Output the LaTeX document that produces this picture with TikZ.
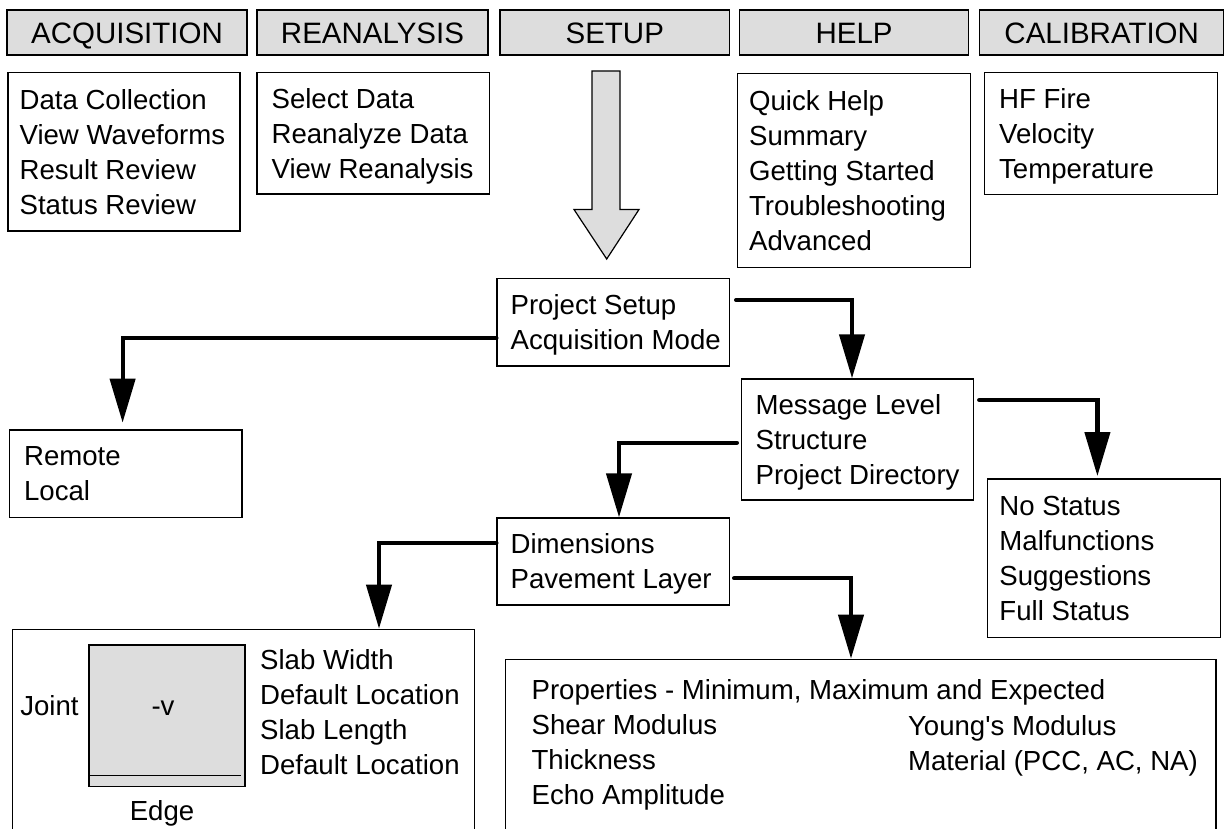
\documentclass[tikz,border=0pt]{standalone}
\usepackage{fontspec}
\setmainfont{Liberation Sans}
\usetikzlibrary{arrows.meta}
\definecolor{hdrgray}{RGB}{221,221,221}
\newcommand\hdrfont{\fontsize{29.5}{34}\selectfont}
\newcommand\bodyfont{\fontsize{27.6}{35}\selectfont}
\begin{document}
\begin{tikzpicture}[x=1pt,y=-1pt,
  hdr/.style={draw, line width=1.3pt, fill=hdrgray, font=\hdrfont, minimum height=45pt, inner sep=0pt,
              text height=21.1pt, text depth=0pt},
  bx/.style={draw, line width=1.2pt, inner sep=0pt},
  lbl/.style={font=\bodyfont, inner sep=0pt, align=left, anchor=west,
              execute at begin node=\strut, execute at end node=\strut},
  btxt/.style={lbl, yshift=-5pt},
  conn/.style={line width=4.2pt, line cap=round, -{Triangle[length=44pt,width=25pt]}}]
\useasboundingbox (0,0) rectangle (1225,829);

% header tabs
\node[hdr, minimum width=240pt]   (acqH) at (127,32.5)    {ACQUISITION};
\node[hdr, minimum width=231pt]   (reaH) at (372.5,32.5)  {REANALYSIS};
\node[hdr, minimum width=229.5pt] (setH) at (614.75,32.5) {SETUP};
\node[hdr, minimum width=229pt]   (hlpH) at (854.1,32.5)  {HELP};
\node[hdr, minimum width=244pt]   (calH) at (1101.7,32.5) {CALIBRATION};

% menu boxes
\node[bx, minimum width=232pt, minimum height=158.3pt] (acqB) at (124,151.9) {};
\node[btxt] (acqT) at ([xshift=12pt]acqB.west) {Data Collection\\View Waveforms\\Result Review\\Status Review};
\node[bx, minimum width=232.5pt, minimum height=121.3pt] (reaB) at (373.25,133.35) {};
\node[btxt] (reaT) at ([xshift=15pt]reaB.west) {Select Data\\Reanalyze Data\\View Reanalysis};
\node[bx, minimum width=233.2pt, minimum height=194.4pt] (hlpB) at (854.1,170.5) {};
\node[btxt] (hlpT) at ([xshift=12pt]hlpB.west) {Quick Help\\Summary\\Getting Started\\Troubleshooting\\Advanced};
\node[bx, minimum width=233pt, minimum height=121.6pt] (calB) at (1101,133.5) {};
\node[btxt] (calT) at ([xshift=15pt]calB.west) {HF Fire\\Velocity\\Temperature};

% big setup arrow
\draw[line width=1.2pt, fill=hdrgray] (592,71) -- (620,71) -- (620,209.5) -- (639,209.5)
  -- (606.7,259) -- (574,209.5) -- (592,209.5) -- cycle;

% setup tree
\node[bx, minimum width=232.5pt, minimum height=87.7pt] (psB) at (613.25,322.15) {};
\node[btxt] (psT) at ([xshift=14pt]psB.west) {Project Setup\\Acquisition Mode};
\node[bx, minimum width=232.5pt, minimum height=87.7pt] (remB) at (125.75,473.85) {};
\node[btxt] (remT) at ([xshift=15pt]remB.west) {Remote\\Local};
\node[bx, minimum width=232.3pt, minimum height=121pt] (msgB) at (857.65,439.5) {};
\node[btxt] (msgT) at ([xshift=14.5pt]msgB.west) {Message Level\\Structure\\Project Directory};
\node[bx, minimum width=232.7pt, minimum height=158.3pt] (stB) at (1104.15,558.15) {};
\node[btxt] (stT) at ([xshift=12pt]stB.west) {No Status\\Malfunctions\\Suggestions\\Full Status};
\node[bx, minimum width=232.8pt, minimum height=87pt] (dimB) at (613.4,561.5) {};
\node[btxt] (dimT) at ([xshift=14pt]dimB.west) {Dimensions\\Pavement Layer};

% slab box
\node[bx, minimum width=461.8pt, minimum height=250.7pt] (slabB) at (243.6,754.65) {};
\node[bx, fill=hdrgray, minimum width=156pt, minimum height=141.7pt] (sq) at (167,715.85) {};
\draw[line width=1.2pt] ([yshift=11.7pt]sq.south west) -- ([xshift=-5pt,yshift=11.7pt]sq.south east);
\node[lbl, anchor=center] (jointT) at (49.4,708) {Joint};
\node[lbl, anchor=center] (vT) at (163,708) {-v};
\node[lbl, anchor=center] (edgeT) at (162,813) {Edge};
\node[lbl] (slabT) at (260,717.5) {Slab Width\\Default Location\\Slab Length\\Default Location};

% properties box
\node[bx, minimum width=710.5pt, minimum height=220.7pt] (propB) at (860.75,769.65) {};
\node[lbl] (propL) at (531.4,747.5) {Properties - Minimum, Maximum and Expected\\Shear Modulus\\Thickness\\Echo Amplitude};
\node[lbl] (propR) at (907.8,748.5) {Young\textquotesingle s Modulus\\Material (PCC, AC, NA)};

% connectors
\draw[conn] ([yshift=-15.85pt]psB.west) -| ([xshift=-3.15pt,yshift=6.7pt]remB.north);
\draw[conn] ([xshift=6pt,yshift=22.15pt]psB.east) -| ([xshift=-5.65pt]msgB.north);
\draw[conn] ([xshift=4.8pt,yshift=39.5pt]msgB.east) -| ([xshift=-6.75pt,yshift=2.3pt]stB.north);
\draw[conn] ([xshift=-4pt,yshift=-3.2pt]msgB.west) -| ([xshift=5.6pt]dimB.north);
\draw[conn] ([yshift=18.5pt]dimB.west) -| ([xshift=135.4pt]slabB.north);
\draw[conn] ([xshift=3.7pt,yshift=-16.8pt]dimB.east) -| ([xshift=-9.75pt]propB.north);
\end{tikzpicture}
\end{document}
